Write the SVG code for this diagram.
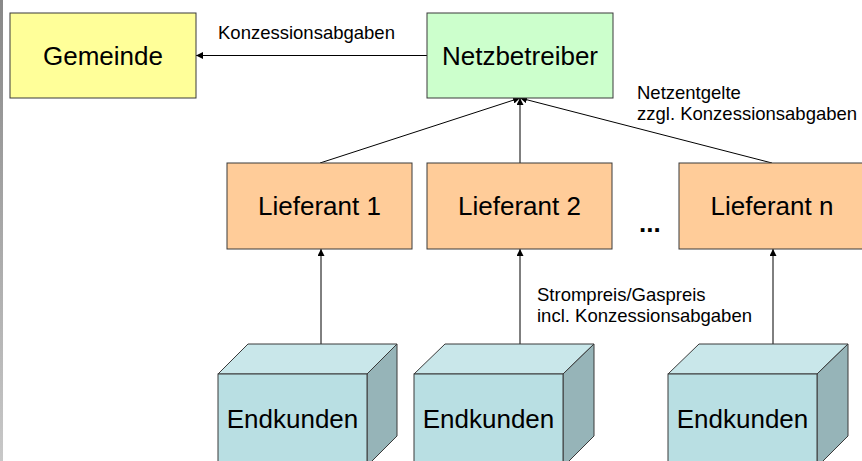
<svg xmlns="http://www.w3.org/2000/svg" width="862" height="461" viewBox="0 0 862 461">
<style>
.box{stroke:#3a3a3a;stroke-width:1}
.big{font-family:"Liberation Sans",Arial,sans-serif;font-size:26px;fill:#000;text-anchor:middle}
.small{font-family:"Liberation Sans",Arial,sans-serif;font-size:18.5px;fill:#000}
.conn{stroke:#000;stroke-width:1;fill:none;marker-end:url(#ah)}
.front{fill:#B9DFE3;stroke:#3a3a3a;stroke-width:1}
.top{fill:#C9E7EA;stroke:#3a3a3a;stroke-width:1}
.side{fill:#96B4B8;stroke:#3a3a3a;stroke-width:1}
</style>
<defs>
<marker id="ah" viewBox="0 0 10 10" refX="10" refY="5" markerWidth="7" markerHeight="7" markerUnits="userSpaceOnUse" orient="auto">
<path d="M0,0 L10,5 L0,10 z" fill="#000"/>
</marker>
<linearGradient id="bar" x1="0" y1="0" x2="0" y2="1">
<stop offset="0" stop-color="#888"/>
<stop offset="1" stop-color="#c8c8c8"/>
</linearGradient>
</defs>
<rect x="0" y="0" width="862" height="461" fill="#fff"/>
<rect x="0" y="0" width="3" height="461" fill="url(#bar)"/>

<g id="connectors">
<line class="conn" x1="427" y1="55.5" x2="196" y2="55.5"/>
<line class="conn" x1="320" y1="163" x2="520" y2="98"/>
<line class="conn" x1="520" y1="163" x2="520" y2="98"/>
<line class="conn" x1="772" y1="163" x2="520" y2="98"/>
<line class="conn" x1="321" y1="344" x2="321" y2="249"/>
<line class="conn" x1="520" y1="344" x2="520" y2="249"/>
<line class="conn" x1="773" y1="344" x2="773" y2="249"/>
</g>

<g id="labels">
<text class="small" x="218" y="39">Konzessionsabgaben</text>
<text class="small" x="637" y="99">Netzentgelte</text>
<text class="small" x="637" y="120">zzgl. Konzessionsabgaben</text>
<text class="small" x="537" y="301">Strompreis/Gaspreis</text>
<text class="small" x="537" y="322">incl. Konzessionsabgaben</text>
<text x="639" y="232" style="font-family:'Liberation Sans',Arial,sans-serif;font-size:26px;font-weight:bold">...</text>
</g>

<g id="gemeinde">
<rect class="box" x="10" y="13" width="186" height="85" fill="#FFFF99"/>
<text class="big" x="103" y="65">Gemeinde</text>
</g>
<g id="netzbetreiber">
<rect class="box" x="427" y="13" width="186" height="85" fill="#CCFFCC"/>
<text class="big" x="520" y="65">Netzbetreiber</text>
</g>
<g id="lieferant1">
<rect class="box" x="227" y="163" width="185" height="86" fill="#FFCC99"/>
<text class="big" x="319.5" y="215">Lieferant 1</text>
</g>
<g id="lieferant2">
<rect class="box" x="427" y="163" width="185" height="86" fill="#FFCC99"/>
<text class="big" x="519.5" y="215">Lieferant 2</text>
</g>
<g id="lieferantn">
<rect class="box" x="679" y="163" width="186" height="86" fill="#FFCC99"/>
<text class="big" x="772" y="215">Lieferant n</text>
</g>

<g id="endkunden1">
<polygon class="top" points="218,374 248,344 397,344 367,374"/>
<polygon class="side" points="367,374 397,344 397,436 367,466"/>
<rect class="front" x="218" y="374" width="149" height="92"/>
<text class="big" x="292.5" y="428">Endkunden</text>
</g>
<g id="endkunden2">
<polygon class="top" points="414,374 445,344 594,344 563,374"/>
<polygon class="side" points="563,374 594,344 594,436 563,467"/>
<rect class="front" x="414" y="374" width="149" height="92"/>
<text class="big" x="488.5" y="428">Endkunden</text>
</g>
<g id="endkunden3">
<polygon class="top" points="668,374 699,344 848,344 817,374"/>
<polygon class="side" points="817,374 848,344 848,436 817,467"/>
<rect class="front" x="668" y="374" width="149" height="92"/>
<text class="big" x="742.5" y="428">Endkunden</text>
</g>
</svg>
